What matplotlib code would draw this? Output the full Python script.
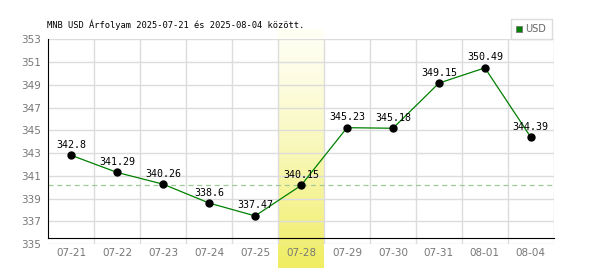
import numpy as np
import matplotlib
matplotlib.use("Agg")
from matplotlib import pyplot as plt
from matplotlib.patches import Rectangle

# daily USD rates
dates = ["07-21", "07-22", "07-23", "07-24", "07-25", "07-28",
         "07-29", "07-30", "07-31", "08-01", "08-04"]
rates = [342.8, 341.29, 340.26, 338.6, 337.47, 340.15,
         345.23, 345.18, 349.15, 350.49, 344.39]
labels = ["342.8", "341.29", "340.26", "338.6", "337.47", "340.15",
          "345.23", "345.18", "349.15", "350.49", "344.39"]
yticks = [335, 337, 339, 341, 343, 345, 347, 349, 351, 353]
highlight = 5  # 07-28

fig = plt.figure(figsize=(6, 2.7), dpi=100)
ax = fig.add_axes([0.0805, 0.0963, 0.8425, 0.758])
x = np.arange(len(dates))

ax.set_xlim(-0.5, len(dates) - 0.5)
ax.set_ylim(335, 353)

# highlighted day, white at top fading to yellow at the bottom
grad = np.linspace(0, 1, 100).reshape(-1, 1) ** 1.3
cmap = matplotlib.colors.LinearSegmentedColormap.from_list("hl", ["#fffff4", "#f0ed62"])
ax.imshow(grad, cmap=cmap, aspect="auto", extent=(highlight - 0.5, highlight + 0.5, 332.9, 353.9),
          origin="upper", clip_on=False, zorder=0)

# grid
for y in yticks:
    ax.axhline(y, color="#dcdcdc", lw=1, zorder=1)
for b in np.arange(0.5, len(dates), 1):
    ax.axvline(b, color="#dcdcdc", lw=1, zorder=1)

ax.axhline(rates[highlight], color="#a0c898", lw=0.9, ls=(0, (4, 3)), zorder=2)

ax.plot(x, rates, color="#008000", lw=0.9, zorder=3)
ax.plot(x, rates, "o", color="black", ms=5, zorder=4)
for xi, r, t in zip(x, rates, labels):
    ax.annotate(t, (xi, r), xytext=(0, 4), textcoords="offset points", ha="center", va="bottom",
                fontsize=7.2, family="DejaVu Sans Mono", color="black", zorder=5)

for s in ["top", "right"]:
    ax.spines[s].set_visible(False)
ax.spines["left"].set_color("black")
ax.spines["bottom"].set_color("black")
ax.spines["bottom"].set_position(("data", 335.5))
ax.spines["left"].set_bounds(335.5, 353)

ax.set_yticks(yticks)
ax.set_yticklabels([str(v) for v in yticks])
ax.set_xticks(x)
ax.set_xticklabels(dates)
ax.tick_params(axis="both", length=0, labelsize=7.5, labelcolor="#777777")
ax.tick_params(axis="y", pad=5)
ax.tick_params(axis="x", pad=7)

fig.text(0.078, 0.91, "MNB USD Árfolyam 2025-07-21 és 2025-08-04 között.",
         fontsize=6.3, family="DejaVu Sans Mono", color="black", va="center")

# legend box
fig.patches.append(Rectangle((511 / 600, 1 - 39 / 270), 41 / 600, 20 / 270, transform=fig.transFigure,
                             facecolor="white", edgecolor="#dcdcdc", lw=1))
fig.patches.append(Rectangle((516 / 600, 1 - 32 / 270), 6 / 600, 6 / 270, transform=fig.transFigure,
                             facecolor="#008000", edgecolor="#777777", lw=0.6))
fig.text(525 / 600, 1 - 29 / 270, "USD", fontsize=7, color="#666666", va="center")

fig.savefig("out.png", dpi=100)
